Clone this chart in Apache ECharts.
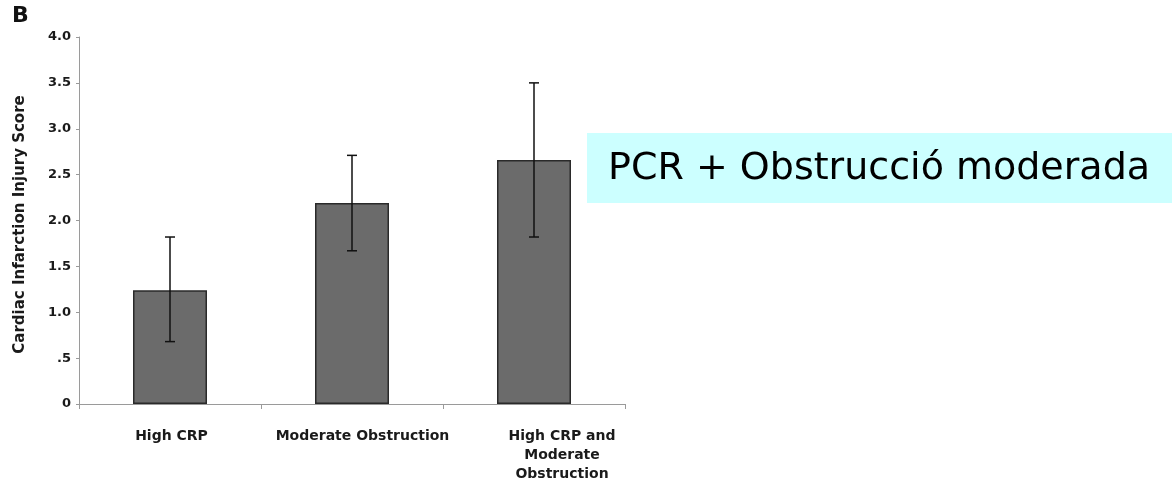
<!DOCTYPE html>
<html><head><meta charset="utf-8">
<script src="https://cdn.jsdelivr.net/npm/echarts@6/dist/echarts.min.js"></script>
<style>html,body{margin:0;padding:0;background:#fff}#c{width:1172px;height:490px}</style>
</head><body><div id="c"></div>
<script>
var categories = ['High CRP', 'Moderate Obstruction', 'High CRP and\nModerate\nObstruction'];
var means = [1.24, 2.19, 2.66];
var errLow = [0.68, 1.67, 1.82];
var errHigh = [1.82, 2.71, 3.50];
var yTickLabels = {0: '0', 0.5: '.5', 1: '1.0', 1.5: '1.5', 2: '2.0', 2.5: '2.5', 3: '3.0', 3.5: '3.5', 4: '4.0'};
var yAxisTitle = 'Cardiac Infarction Injury Score';
var panelLabel = 'B';
var annotation = 'PCR + Obstrucció moderada';

var labelFont = {color: '#1a1a1a', fontWeight: 'bold', fontSize: 14, fontFamily: 'DejaVu Sans', lineHeight: 19};
var labelShift = [3, 21, 56];
var rich = {};
labelShift.forEach(function (s, i) {
  rich['l' + i] = Object.assign({padding: [0, 0, 0, s]}, labelFont);
});

var chart = echarts.init(document.getElementById('c'), null, {renderer: 'canvas'});
var errData = categories.map(function (c, i) { return [i, errLow[i], errHigh[i]]; });
chart.setOption({
  animation: false,
  backgroundColor: '#fff',
  grid: {left: 79, right: 547, top: 37, bottom: 86},
  xAxis: {
    type: 'category', data: categories,
    axisLine: {lineStyle: {color: '#9a9a9a', width: 1}},
    axisTick: {show: true, alignWithLabel: false, length: 5, lineStyle: {color: '#9a9a9a'}},
    axisLabel: Object.assign({margin: 23, interval: 0, rich: rich,
      formatter: function (v, idx) {
        return v.split('\n').map(function (line) { return '{l' + idx + '|' + line + '}'; }).join('\n');
      }}, labelFont)
  },
  yAxis: {
    type: 'value', min: 0, max: 4, interval: 0.5,
    name: yAxisTitle, nameLocation: 'middle', nameGap: 51, nameRotate: 90,
    nameTextStyle: {color: '#1a1a1a', fontWeight: 'bold', fontSize: 15, fontFamily: 'DejaVu Sans', padding: [0, 8, 0, 0]},
    axisLine: {show: true, lineStyle: {color: '#9a9a9a'}},
    axisTick: {show: true, length: 3, lineStyle: {color: '#9a9a9a'}},
    splitLine: {show: false},
    axisLabel: {color: '#1a1a1a', fontWeight: 'bold', fontSize: 13, fontFamily: 'DejaVu Sans', margin: 8,
      formatter: function (v) { return yTickLabels[v] !== undefined ? yTickLabels[v] : ''; }}
  },
  series: [{
    type: 'bar', data: means, barWidth: 74,
    itemStyle: {color: '#6b6b6b', borderColor: '#2a2a2a', borderWidth: 1.5}
  }, {
    type: 'custom', data: errData, z: 10,
    renderItem: function (params, api) {
      var x = api.value(0);
      var lo = api.coord([x, api.value(1)]);
      var hi = api.coord([x, api.value(2)]);
      var w = 5;
      var st = {stroke: '#111', lineWidth: 1.5};
      return {type: 'group', children: [
        {type: 'line', shape: {x1: hi[0], y1: hi[1], x2: lo[0], y2: lo[1]}, style: st},
        {type: 'line', shape: {x1: hi[0] - w, y1: hi[1], x2: hi[0] + w, y2: hi[1]}, style: st},
        {type: 'line', shape: {x1: lo[0] - w, y1: lo[1], x2: lo[0] + w, y2: lo[1]}, style: st}
      ]};
    }
  }],
  graphic: [
    {type: 'text', left: 12, top: 5, style: {text: panelLabel, font: 'bold 22px "DejaVu Sans"', fill: '#111'}},
    {type: 'rect', shape: {x: 587, y: 133, width: 585, height: 70}, style: {fill: '#ccffff'}},
    {type: 'text', x: 608, y: 169, style: {text: annotation, font: '38px "DejaVu Sans"', fill: '#000', textVerticalAlign: 'middle'}}
  ]
});
</script></body></html>
